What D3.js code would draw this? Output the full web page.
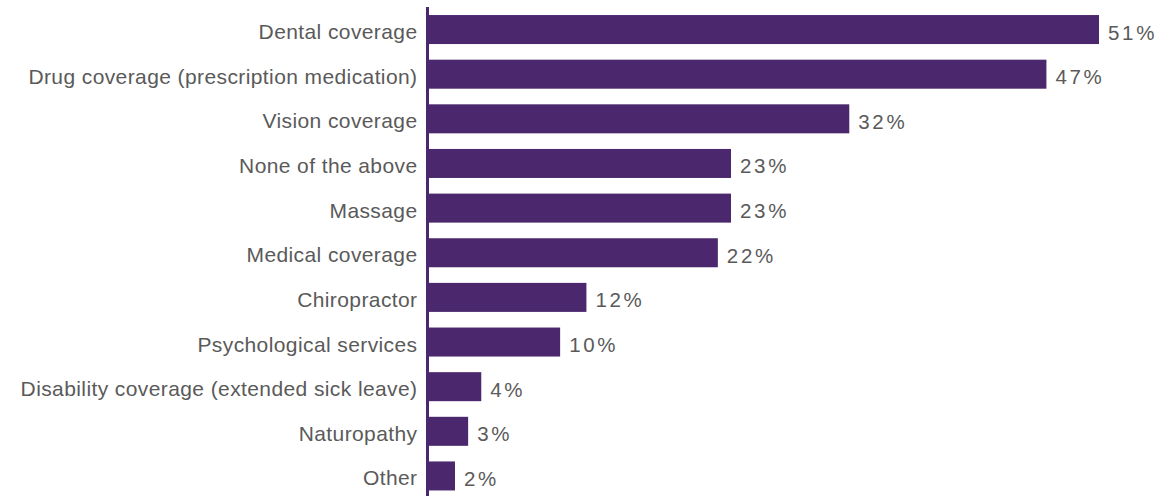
<!DOCTYPE html>
<html>
<head>
<meta charset="utf-8">
<script src="https://cdnjs.cloudflare.com/ajax/libs/d3/7.8.5/d3.min.js"></script>
<style>
  html, body { margin: 0; padding: 0; background: #fff; }
  svg text { font-family: "Liberation Sans", "Helvetica Neue", Helvetica, Arial, sans-serif; }
</style>
</head>
<body>
<svg id="chart" width="1170" height="496"></svg>
<script>
// Benefit categories and share of respondents (%)
const categories = [
  "Dental coverage",
  "Drug coverage (prescription medication)",
  "Vision coverage",
  "None of the above",
  "Massage",
  "Medical coverage",
  "Chiropractor",
  "Psychological services",
  "Disability coverage (extended sick leave)",
  "Naturopathy",
  "Other"
];
const values = [51, 47, 32, 23, 23, 22, 12, 10, 4, 3, 2];

const svg = d3.select("#chart");
const barColor = "#4b286d";
const textColor = "#5a5a5a";

const x = d3.scaleLinear().domain([0, 51]).range([428.7, 1099]);
const y = d3.scaleBand().domain(categories).range([7, 498.5]).paddingInner(0.35).paddingOuter(0.18);

const rows = categories.map((c, i) => ({ cat: c, val: values[i] }));

// bars
svg.append("g").selectAll("rect")
  .data(rows)
  .join("rect")
  .attr("x", x(0))
  .attr("y", d => y(d.cat))
  .attr("width", d => x(d.val) - x(0))
  .attr("height", y.bandwidth())
  .attr("fill", barColor);

// vertical baseline
svg.append("line")
  .attr("x1", 427.5).attr("x2", 427.5)
  .attr("y1", 7).attr("y2", 496)
  .attr("stroke", barColor)
  .attr("stroke-width", 3);

// category labels
svg.append("g").selectAll("text")
  .data(rows)
  .join("text")
  .attr("x", 417.5)
  .attr("y", d => y(d.cat) + y.bandwidth() / 2 + 9.5)
  .attr("text-anchor", "end")
  .attr("font-size", 21)
  .attr("letter-spacing", "0.4px")
  .attr("fill", textColor)
  .text(d => d.cat);

// value labels
svg.append("g").selectAll("text")
  .data(rows)
  .join("text")
  .attr("x", d => x(d.val) + 9)
  .attr("y", d => y(d.cat) + y.bandwidth() / 2 + 10)
  .attr("font-size", 20.5)
  .attr("letter-spacing", "2.7px")
  .attr("fill", textColor)
  .text(d => d.val + "%");
</script>
</body>
</html>
